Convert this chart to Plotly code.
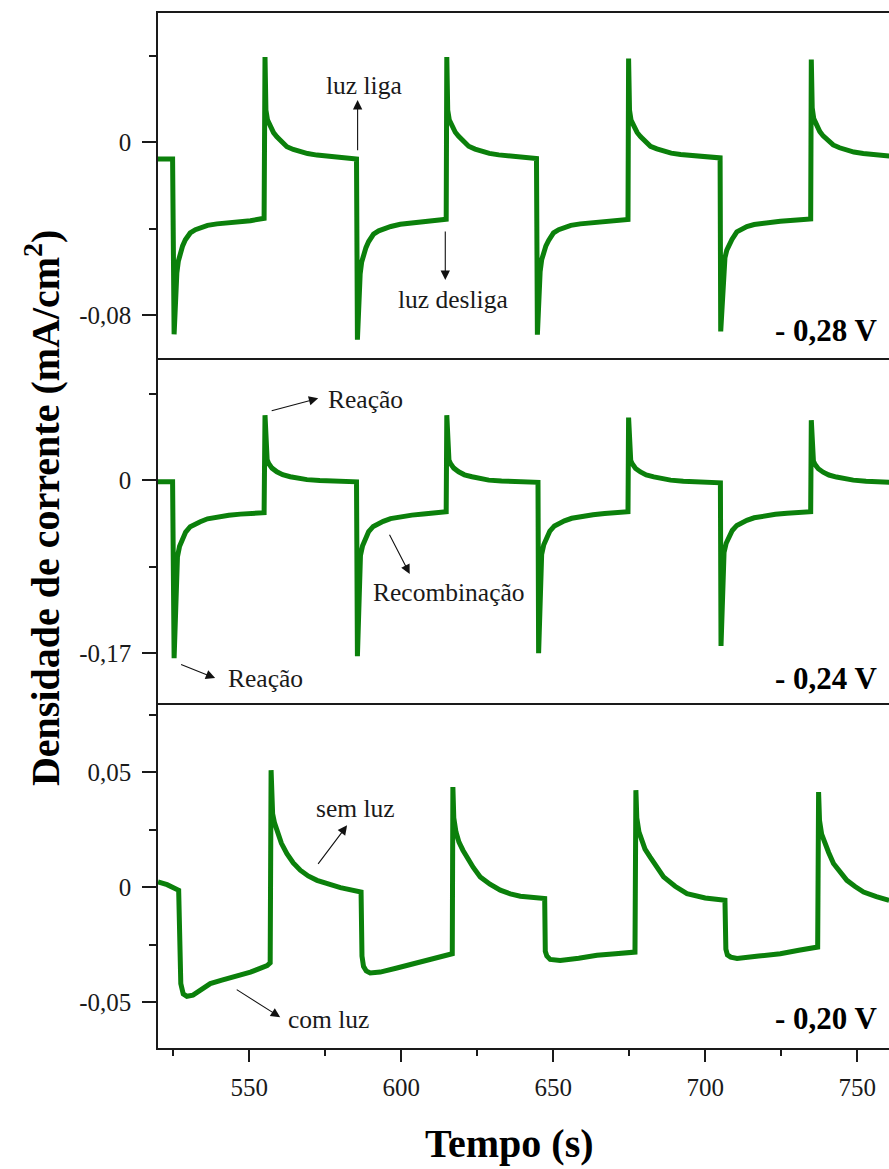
import plotly.graph_objects as go

# Chronoamperometry under chopped light, three applied potentials.
# Time (s) and current density (mA/cm2) for each potential.

t_028 = [520.0, 524.8, 525.3, 525.9, 526.2, 526.7, 527.3, 528.1, 529.0, 530.6, 532.3, 533.9, 536.3, 539.4, 544.9, 550.4, 554.9,
         555.2, 555.5, 556.0, 556.9, 558.0, 559.1, 560.7, 562.4, 564.5, 566.8, 569.2, 572.3, 577.8, 585.3,
         585.6, 586.2, 586.5, 587.0, 587.6, 588.4, 589.3, 590.9, 592.6, 594.2, 596.6, 599.7, 605.2, 610.7, 614.8,
         615.0, 615.3, 615.8, 616.7, 617.8, 618.9, 620.5, 622.2, 624.3, 626.6, 629.0, 632.1, 637.6, 644.5,
         644.8, 645.4, 645.7, 646.2, 646.8, 647.6, 648.5, 650.1, 651.8, 653.4, 655.8, 658.9, 664.4, 669.9, 674.6,
         674.8, 675.1, 675.6, 676.5, 677.6, 678.7, 680.3, 682.0, 684.1, 686.4, 688.8, 691.9, 697.4, 704.9,
         705.1, 705.7, 706.0, 706.5, 707.1, 707.9, 708.8, 710.4, 712.1, 713.7, 716.1, 719.2, 724.7, 730.2, 734.7,
         734.9, 735.2, 735.7, 736.6, 737.7, 738.8, 740.4, 742.1, 744.2, 746.5, 748.9, 752.0, 757.5, 760.5]
j_028 = [-0.0077, -0.0077, -0.0890, -0.0680, -0.0605, -0.0550, -0.0513, -0.0480, -0.0452, -0.0420, -0.0405, -0.0395, -0.0385, -0.0378, -0.0372, -0.0363, -0.0352,
         0.0396, 0.0150, 0.0105, 0.0072, 0.0045, 0.0026, 0.0002, -0.0020, -0.0033, -0.0044, -0.0052, -0.0059, -0.0067, -0.0077,
         -0.0915, -0.0690, -0.0610, -0.0555, -0.0520, -0.0488, -0.0460, -0.0425, -0.0410, -0.0400, -0.0390, -0.0380, -0.0372, -0.0365, -0.0357,
         0.0396, 0.0150, 0.0105, 0.0075, 0.0047, 0.0028, 0.0004, -0.0018, -0.0031, -0.0043, -0.0051, -0.0058, -0.0066, -0.0075,
         -0.0892, -0.0680, -0.0600, -0.0545, -0.0510, -0.0480, -0.0455, -0.0420, -0.0405, -0.0395, -0.0385, -0.0378, -0.0370, -0.0362, -0.0358,
         0.0389, 0.0150, 0.0103, 0.0072, 0.0046, 0.0027, 0.0003, -0.0018, -0.0030, -0.0042, -0.0050, -0.0056, -0.0064, -0.0072,
         -0.0877, -0.0670, -0.0590, -0.0535, -0.0500, -0.0472, -0.0450, -0.0415, -0.0400, -0.0390, -0.0381, -0.0375, -0.0366, -0.0360, -0.0355,
         0.0384, 0.0160, 0.0110, 0.0078, 0.0050, 0.0030, 0.0008, -0.0012, -0.0025, -0.0036, -0.0045, -0.0052, -0.0060, -0.0063]

t_024 = [520.0, 524.8, 525.3, 525.9, 526.4, 527.1, 527.9, 529.1, 530.6, 532.2, 533.9, 536.3, 539.4, 543.3, 547.1, 554.9,
         555.2, 555.5, 555.9, 556.4, 557.5, 559.1, 561.0, 563.5, 566.2, 569.0, 573.2, 577.0, 585.3,
         585.6, 586.2, 586.6, 587.3, 588.1, 589.3, 590.8, 592.4, 594.1, 596.5, 599.6, 603.5, 607.3, 614.8,
         615.0, 615.3, 615.7, 616.2, 617.3, 618.9, 620.8, 623.3, 626.0, 628.8, 633.0, 636.8, 645.0,
         645.2, 645.8, 646.2, 646.9, 647.7, 648.9, 650.4, 652.0, 653.7, 656.1, 659.2, 663.1, 666.9, 674.6,
         674.8, 675.1, 675.5, 676.0, 677.1, 678.7, 680.6, 683.1, 685.8, 688.6, 692.8, 696.6, 705.0,
         705.2, 705.8, 706.2, 706.9, 707.7, 708.9, 710.4, 712.0, 713.7, 716.1, 719.2, 723.1, 726.9, 734.7,
         734.9, 735.2, 735.6, 736.1, 737.2, 738.8, 740.7, 743.2, 745.9, 748.7, 752.9, 756.7, 760.5]
j_024 = [-0.0017, -0.0017, -0.1750, -0.0950, -0.0752, -0.0650, -0.0589, -0.0510, -0.0458, -0.0430, -0.0409, -0.0380, -0.0360, -0.0346, -0.0334, -0.0320,
         0.0638, 0.0262, 0.0200, 0.0164, 0.0118, 0.0082, 0.0053, 0.0033, 0.0016, 0.0005, -0.0003, -0.0010, -0.0017,
         -0.1730, -0.0950, -0.0740, -0.0645, -0.0580, -0.0505, -0.0455, -0.0428, -0.0405, -0.0378, -0.0358, -0.0344, -0.0332, -0.0310,
         0.0638, 0.0260, 0.0198, 0.0164, 0.0118, 0.0082, 0.0052, 0.0033, 0.0015, 0.0000, -0.0008, -0.0015, -0.0022,
         -0.1700, -0.0930, -0.0730, -0.0635, -0.0570, -0.0500, -0.0450, -0.0423, -0.0400, -0.0375, -0.0355, -0.0340, -0.0328, -0.0310,
         0.0615, 0.0250, 0.0192, 0.0160, 0.0115, 0.0080, 0.0051, 0.0032, 0.0014, 0.0000, -0.0010, -0.0018, -0.0026,
         -0.1630, -0.0900, -0.0710, -0.0620, -0.0560, -0.0495, -0.0445, -0.0418, -0.0395, -0.0370, -0.0350, -0.0336, -0.0325, -0.0310,
         0.0589, 0.0240, 0.0187, 0.0155, 0.0112, 0.0078, 0.0050, 0.0030, 0.0013, 0.0000, -0.0010, -0.0018, -0.0022]

t_020 = [520.0, 523.0, 526.8, 527.0, 527.2, 527.5, 528.3, 529.5, 531.5, 534.0, 537.2, 541.0, 544.9, 550.4, 555.9, 556.9,
         557.2, 557.7, 558.3, 559.1, 560.6, 562.4, 564.5, 566.8, 569.4, 572.3, 576.0, 580.0, 586.8,
         587.1, 587.6, 588.5, 589.8, 593.1, 598.6, 604.1, 609.6, 615.0, 616.8,
         617.0, 617.3, 618.0, 619.0, 620.3, 621.6, 623.7, 626.0, 629.2, 632.6, 635.9, 639.2, 647.2,
         647.4, 647.9, 649.0, 652.3, 658.4, 664.4, 670.5, 676.9,
         677.2, 677.5, 678.2, 679.0, 680.2, 681.9, 684.1, 686.3, 690.1, 694.0, 700.0, 706.5,
         706.8, 707.3, 708.4, 710.5, 717.6, 724.7, 730.8, 737.0,
         737.3, 737.6, 738.3, 739.0, 740.6, 742.2, 744.4, 746.6, 749.3, 752.1, 756.3, 760.5]
j_020 = [0.0022, 0.0010, -0.0014, -0.0100, -0.0261, -0.0420, -0.0465, -0.0475, -0.0470, -0.0450, -0.0420, -0.0405, -0.0392, -0.0370, -0.0342, -0.0330,
         0.0508, 0.0319, 0.0280, 0.0247, 0.0190, 0.0145, 0.0105, 0.0073, 0.0048, 0.0029, 0.0011, -0.0003, -0.0022,
         -0.0300, -0.0345, -0.0365, -0.0374, -0.0370, -0.0352, -0.0333, -0.0315, -0.0297, -0.0290,
         0.0435, 0.0300, 0.0240, 0.0195, 0.0160, 0.0130, 0.0085, 0.0044, 0.0012, -0.0014, -0.0030, -0.0040, -0.0050,
         -0.0280, -0.0300, -0.0315, -0.0319, -0.0310, -0.0297, -0.0290, -0.0283,
         0.0421, 0.0300, 0.0240, 0.0205, 0.0165, 0.0130, 0.0083, 0.0044, 0.0003, -0.0029, -0.0048, -0.0058,
         -0.0270, -0.0295, -0.0305, -0.0311, -0.0300, -0.0290, -0.0275, -0.0261,
         0.0413, 0.0290, 0.0230, 0.0203, 0.0150, 0.0102, 0.0062, 0.0029, 0.0002, -0.0022, -0.0042, -0.0058]

potential_labels = ["- 0,28 V", "- 0,24 V", "- 0,20 V"]
x_ticks = [550, 600, 650, 700, 750]

FONT = "Liberation Serif"
INK = "#1a1a1a"
GREEN = "#0b800b"
X_RANGE = [520, 760.46]

fig = go.Figure()
for t, j, ax_x, ax_y in [(t_028, j_028, "x", "y"), (t_024, j_024, "x2", "y2"), (t_020, j_020, "x3", "y3")]:
    fig.add_trace(go.Scatter(x=t, y=j, xaxis=ax_x, yaxis=ax_y, mode="lines",
                             line=dict(color=GREEN, width=5), showlegend=False,
                             hoverinfo="skip"))

xbase = dict(range=X_RANGE, showline=True, linecolor=INK, linewidth=1.5,
             showgrid=False, zeroline=False)
ybase = dict(showline=True, mirror=False, linecolor=INK, linewidth=1.5, showgrid=False,
             zeroline=False, ticks="outside", ticklen=14, tickwidth=1.5, tickcolor=INK,
             tickfont=dict(family=FONT, size=25, color=INK), ticklabelstandoff=6)

fig.update_layout(
    width=889, height=1169,
    margin=dict(l=158, r=0, t=13, b=121),
    paper_bgcolor="white", plot_bgcolor="white",
    font=dict(family=FONT, color=INK),
    xaxis=dict(xbase, anchor="y", mirror=True, ticks="", showticklabels=False),
    xaxis2=dict(xbase, anchor="y2", mirror=False, ticks="", showticklabels=False),
    xaxis3=dict(xbase, anchor="y3", mirror=False, ticks="outside", ticklen=12, tickwidth=1.5, tickcolor=INK,
                tickvals=x_ticks, ticktext=[str(v) for v in x_ticks],
                minor=dict(dtick=25, tick0=0, ticks="outside", ticklen=6, tickwidth=1.5, tickcolor=INK),
                tickfont=dict(family=FONT, size=25, color=INK), ticklabelstandoff=4),
    yaxis=dict(ybase, domain=[2/3, 1], anchor="x", range=[-0.1, 0.06],
               tickvals=[-0.08, 0], ticktext=["-0,08", "0"],
               minor=dict(dtick=0.04, tick0=0, ticks="outside", ticklen=7, tickwidth=1.5, tickcolor=INK)),
    yaxis2=dict(ybase, domain=[1/3, 2/3], anchor="x2", range=[-0.219, 0.12],
                tickvals=[-0.17, 0], ticktext=["-0,17", "0"],
                minor=dict(dtick=0.085, tick0=0, ticks="outside", ticklen=7, tickwidth=1.5, tickcolor=INK)),
    yaxis3=dict(ybase, domain=[0, 1/3], anchor="x3", range=[-0.07, 0.08],
                tickvals=[-0.05, 0, 0.05], ticktext=["-0,05", "0", "0,05"],
                minor=dict(dtick=0.025, tick0=0, ticks="outside", ticklen=7, tickwidth=1.5, tickcolor=INK)),
)

annotations = []

# axis titles
annotations.append(dict(text="<b>Densidade de corrente (mA/cm<sup>2</sup>)</b>", xref="paper", yref="paper",
                        x=-0.1587, y=0.5217, xanchor="center", yanchor="middle", textangle=-90,
                        showarrow=False, font=dict(family=FONT, size=40, color="black")))
annotations.append(dict(text="<b>Tempo (s)</b>", xref="paper", yref="paper",
                        x=0.4815, y=-0.0925, xanchor="center", yanchor="middle",
                        showarrow=False, font=dict(family=FONT, size=40, color="black")))

# applied potential in each panel
for label, ax_x, ax_y, yv in zip(potential_labels, ["x", "x2", "x3"], ["y", "y2", "y3"],
                                 [-0.0874, -0.1952, -0.0571]):
    annotations.append(dict(text="<b>" + label + "</b>", xref=ax_x, yref=ax_y, x=757.6, y=yv,
                            xanchor="right", yanchor="middle", showarrow=False,
                            font=dict(family=FONT, size=31, color="black")))

# arrows (tail -> head) and their captions
arrows = [
    ("x", "y", 585.66, -0.0044, 585.66, 0.0196),
    ("x", "y", 614.5, -0.0406, 614.5, -0.0638),
    ("x2", "y2", 556.9, 0.0677, 572.7, 0.0804),
    ("x2", "y2", 595.9, -0.0523, 602.8, -0.0922),
    ("x2", "y2", 527.1, -0.1805, 538.8, -0.1945),
    ("x3", "y3", 572.3, 0.0094, 582.2, 0.0268),
    ("x3", "y3", 545.4, -0.0442, 560.2, -0.0566),
]
for ax_x, ax_y, x0, y0, x1, y1 in arrows:
    annotations.append(dict(text="", xref=ax_x, yref=ax_y, axref=ax_x, ayref=ax_y,
                            x=x1, y=y1, ax=x0, ay=y0, showarrow=True, arrowhead=2,
                            arrowsize=1.7, arrowwidth=1.1, arrowcolor="#111111",
                            standoff=0, startstandoff=0))

captions = [
    ("x", "y", 587.9, 0.0265, "luz liga"),
    ("x", "y", 617.1, -0.0730, "luz desliga"),
    ("x2", "y2", 588.4, 0.0795, "Reação"),
    ("x2", "y2", 615.8, -0.1109, "Recombinação"),
    ("x2", "y2", 555.5, -0.1952, "Reação"),
    ("x3", "y3", 584.9, 0.0342, "sem luz"),
    ("x3", "y3", 576.0, -0.0576, "com luz"),
]
for ax_x, ax_y, xv, yv, txt in captions:
    annotations.append(dict(text=txt, xref=ax_x, yref=ax_y, x=xv, y=yv, xanchor="center",
                            yanchor="middle", showarrow=False,
                            font=dict(family=FONT, size=25.5, color=INK)))

fig.update_layout(annotations=annotations)
fig.write_html("out.html")
